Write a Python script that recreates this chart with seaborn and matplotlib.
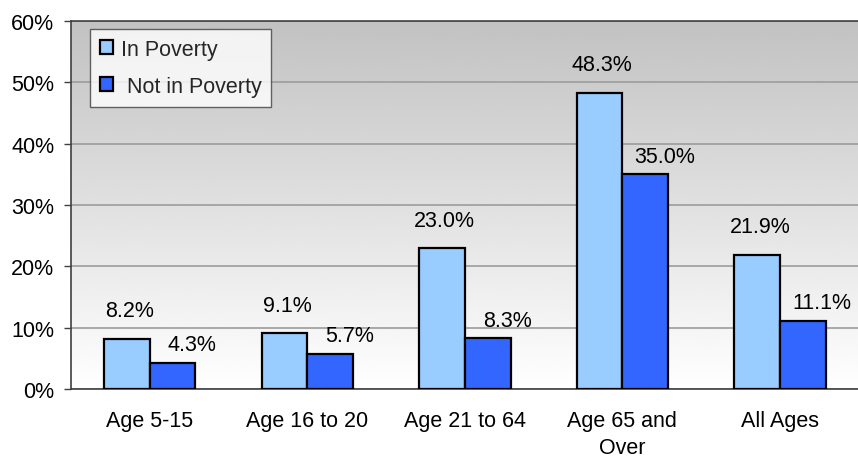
import numpy as np
import pandas as pd
import matplotlib
matplotlib.use("Agg")
import matplotlib.pyplot as plt
from matplotlib.ticker import FixedLocator, PercentFormatter
from matplotlib.patches import Patch
import seaborn as sns

categories = ["Age 5-15", "Age 16 to 20", "Age 21 to 64", "Age 65 and\nOver", "All Ages"]
in_poverty = [8.2, 9.1, 23.0, 48.3, 21.9]
not_in_poverty = [4.3, 5.7, 8.3, 35.0, 11.1]
series_names = ["In Poverty", "Not in Poverty"]
y_ticks = [0, 10, 20, 30, 40, 50, 60]

df = pd.DataFrame({
    "category": categories * 2,
    "value": in_poverty + not_in_poverty,
    "series": [series_names[0]] * len(categories) + [series_names[1]] * len(categories),
})

sns.set_theme(style="white")
plt.rcParams["font.family"] = ["Liberation Sans", "DejaVu Sans"]

colors = ["#99CCFF", "#3366FF"]
FS = 15.5

fig = plt.figure(figsize=(8.58, 4.60), dpi=100)
ax = fig.add_axes([71 / 858, 1 - 390 / 460, 1 - 71 / 858 + 0.01, (390 - 22) / 460])

XMAX = 4.55
# vertical gray-to-white gradient behind the bars
grad = np.linspace(0.76, 1.0, 256).reshape(-1, 1)
ax.imshow(grad, cmap="gray", vmin=0, vmax=1, aspect="auto", origin="upper",
          extent=(-0.5, XMAX, 0, 60), zorder=0, interpolation="bicubic")

sns.barplot(data=df, x="category", y="value", hue="series", palette=colors,
            saturation=1, edgecolor="black", linewidth=1.6, width=0.58, gap=0,
            ax=ax, legend=False, zorder=3)

ax.set_xlim(-0.5, XMAX)
ax.set_ylim(0, 60)
ax.yaxis.set_major_locator(FixedLocator(y_ticks))
ax.yaxis.set_major_formatter(PercentFormatter(decimals=0))
ax.grid(axis="y", color="#9C9C9C", linewidth=1.2)
for line in ax.get_ygridlines():
    line.set_zorder(1)

ax.set_xlabel("")
ax.set_ylabel("")
ax.set_xticks(range(len(categories)))
ax.set_xticklabels(categories, fontsize=FS, color="black", linespacing=1.4)
ax.tick_params(axis="x", which="major", length=0, pad=15)
ax.set_xticks([i + 0.5 for i in range(-1, len(categories))], minor=True)
ax.tick_params(axis="x", which="minor", length=5, width=1, color="#404040", direction="out")
ax.tick_params(axis="y", length=5, width=1, color="#404040", direction="out",
               labelsize=FS, labelcolor="black", left=True, pad=7)

for side in ["left", "bottom", "top"]:
    ax.spines[side].set_color("#404040")
    ax.spines[side].set_linewidth(1.2)
ax.spines["right"].set_visible(False)

# value labels: light bars centered above, dark bars shifted right
offsets = [(2.0, 20.0), (14.0, 13.0)]
for container, (dx, dy) in zip(ax.containers, offsets):
    labels = [f"{v:.1f}%" for v in container.datavalues]
    texts = ax.bar_label(container, labels=labels, padding=0, fontsize=FS,
                         color="black")
    for t in texts:
        t.xyann = (dx, dy)
        t.set_va("center")
        t.set_zorder(4)

handles = [Patch(facecolor=c, edgecolor="black", linewidth=1.6) for c in colors]
leg = ax.legend(handles, ["In Poverty", " Not in Poverty"], loc="upper left",
                bbox_to_anchor=(19 / 787, 1 - 8 / 368), fontsize=FS,
                frameon=True, fancybox=False, edgecolor="#404040",
                handlelength=0.62, handleheight=0.62, handletextpad=0.35,
                labelspacing=0.75, borderpad=0.45, borderaxespad=0)
leg.get_frame().set_linewidth(1.0)
leg.set_zorder(5)

fig.savefig("out.png", dpi=100)
